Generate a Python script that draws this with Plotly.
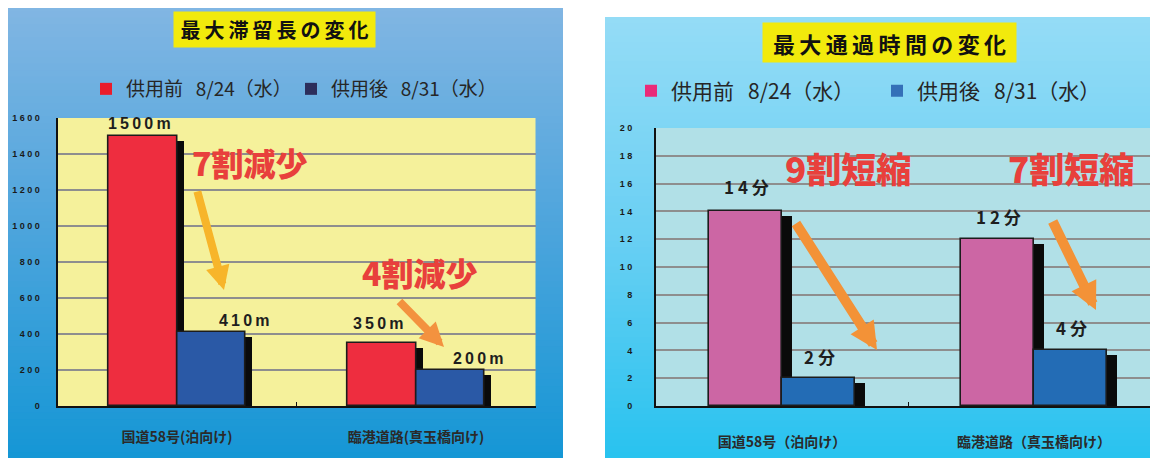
import plotly.graph_objects as go

W, H = 1158, 458
OX, OY = 8, 8  # page body margin of the viewing page

# ---------------- data ----------------
left_title = "最大滞留長の変化"
right_title = "最大通過時間の変化"
legend_before = "供用前\u00a0\u00a0\u00a08/24（水）"
legend_after = "供用後\u00a0\u00a0\u00a08/31（水）"

left_categories = ["国道58号(泊向け)", "臨港道路(真玉橋向け)"]
left_before = [1500, 350]
left_after = [410, 200]
left_unit = "m"
left_tickvals = [0, 200, 400, 600, 800, 1000, 1200, 1400, 1600]
left_ratio_labels = ["7割減少", "4割減少"]

right_categories = ["国道58号（泊向け）", "臨港道路（真玉橋向け）"]
right_before = [14, 12]
right_after = [2, 4]
right_unit = "分"
right_tickvals = [0, 2, 4, 6, 8, 10, 12, 14, 16, 18, 20]
right_ratio_labels = ["9割短縮", "7割短縮"]

# ---------------- helpers ----------------
def px(x):
    return min(1.0, max(0.0, (x - OX) / W))

def py(y):
    return min(1.0, max(0.0, 1 - (y - OY) / H))

def spaced(s, sep=" "):
    return sep.join(list(s))

def hex2rgb(h):
    h = h.lstrip("#")
    return tuple(int(h[i:i + 2], 16) for i in (0, 2, 4))

def gradient(x0, x1, y0, y1, stops, n=70):
    shapes = []
    step = (y1 - y0) / n
    for i in range(n):
        t = (i + 0.5) / n
        for j in range(len(stops) - 1):
            if stops[j][0] <= t <= stops[j + 1][0]:
                a, ca = stops[j]
                b, cb = stops[j + 1]
                f = (t - a) / (b - a)
                break
        ra, rb = hex2rgb(ca), hex2rgb(cb)
        c = tuple(round(ra[k] + (rb[k] - ra[k]) * f) for k in range(3))
        shapes.append(dict(type="rect", xref="paper", yref="paper", layer="below",
                           x0=px(x0), x1=px(x1), y0=py(min(y1, y0 + (i + 1) * step + 0.6)),
                           y1=py(max(y0, y0 + i * step - 0.6)),
                           fillcolor="rgb(%d,%d,%d)" % c, line=dict(width=0)))
    return shapes

CJK = "Noto Sans CJK JP"
NUM = "Liberation Sans"

fig = go.Figure()

# ---------------- bars ----------------
def add_panel(cats, before, after, xa, ya, yrange, plot_h, bw, sdx, c_before, c_after):
    dy = 5 * yrange / plot_h
    fig.add_trace(go.Bar(x=cats, y=[v - dy for v in before], offset=-bw + sdx, width=bw,
                         marker=dict(color="#0a0a0a", line=dict(width=0)),
                         showlegend=False, hoverinfo="skip", xaxis=xa, yaxis=ya))
    fig.add_trace(go.Bar(x=cats, y=[v - dy for v in after], offset=sdx, width=bw,
                         marker=dict(color="#0a0a0a", line=dict(width=0)),
                         showlegend=False, hoverinfo="skip", xaxis=xa, yaxis=ya))
    fig.add_trace(go.Bar(x=cats, y=before, offset=-bw, width=bw,
                         marker=dict(color=c_before, line=dict(color="#1c1c1c", width=1.6)),
                         showlegend=False, xaxis=xa, yaxis=ya))
    fig.add_trace(go.Bar(x=cats, y=after, offset=0, width=bw,
                         marker=dict(color=c_after, line=dict(color="#1c1c1c", width=1.6)),
                         showlegend=False, xaxis=xa, yaxis=ya))

add_panel(left_categories, left_before, left_after, "x", "y", 1600, 288, 0.285, 0.028,
          "#ee2d3f", "#2a59a6")
add_panel(right_categories, right_before, right_after, "x2", "y2", 20, 278, 0.29, 0.038,
          "#cc66a4", "#236cb5")

# legend-only entries (swatch colours differ from the bars in the original)
for name, col, lg, xa, ya, cats in [
    (legend_before, "#ea1c2b", "legend", "x", "y", left_categories),
    (legend_after, "#2c2e5c", "legend", "x", "y", left_categories),
    (legend_before, "#ea2a78", "legend2", "x2", "y2", right_categories),
    (legend_after, "#3470b8", "legend2", "x2", "y2", right_categories),
]:
    fig.add_trace(go.Bar(x=[cats[0]], y=[None], name=name, marker=dict(color=col, line=dict(width=0)),
                         legend=lg, xaxis=xa, yaxis=ya, hoverinfo="skip"))

# ---------------- annotations ----------------
ann = []
lab_font_l = dict(family=NUM, size=16, color="#1e1e1e", weight="bold")
for i, c in enumerate(left_categories):
    ann.append(dict(x=c, y=left_before[i], xref="x", yref="y", showarrow=False,
                    text=spaced(f"{left_before[i]}{left_unit}", "\u2009"), xshift=-38,
                    yshift=[13, 20][i], xanchor="center", yanchor="middle", font=lab_font_l))
    ann.append(dict(x=c, y=left_after[i], xref="x", yref="y", showarrow=False,
                    text=spaced(f"{left_after[i]}{left_unit}", "\u2009"), xshift=[67, 62][i],
                    yshift=12, xanchor="center", yanchor="middle", font=lab_font_l))
lab_font_r = dict(family=CJK, size=17, color="#1e1e1e", weight="bold")
for i, c in enumerate(right_categories):
    ann.append(dict(x=c, y=right_before[i], xref="x2", yref="y2", showarrow=False,
                    text=spaced(f"{right_before[i]}{right_unit}"), xshift=-36,
                    yshift=[25, 23][i], xanchor="center", yanchor="middle", font=lab_font_r))
    ann.append(dict(x=c, y=right_after[i], xref="x2", yref="y2", showarrow=False,
                    text=spaced(f"{right_after[i]}{right_unit}"), xshift=37,
                    yshift=[22, 23][i], xanchor="center", yanchor="middle", font=lab_font_r))

# titles
ann.append(dict(x=px(274.5), y=py(29.5), xref="paper", yref="paper", showarrow=False,
                xanchor="center", yanchor="middle",
                text=spaced(left_title, "\u2009"), bgcolor="#f2ea0c", width=199, height=33,
                font=dict(family=CJK, size=20, color="#111", weight="bold")))
ann.append(dict(x=px(889.5), y=py(42.5), xref="paper", yref="paper", showarrow=False,
                xanchor="center", yanchor="middle",
                text=spaced(right_title, "\u2009"), bgcolor="#f2ea0c", width=251, height=37,
                font=dict(family=CJK, size=22, color="#111", weight="bold")))

# ratio callouts
ratio_red = "#e8403c"
for txt, (cx, cy), sz in [
    (left_ratio_labels[0], (250, 162), 32),
    (left_ratio_labels[1], (420, 272), 32),
    (right_ratio_labels[0], (848, 168), 35),
    (right_ratio_labels[1], (1071, 168), 35),
]:
    ann.append(dict(x=px(cx), y=py(cy), xref="paper", yref="paper", showarrow=False, text=txt,
                    xanchor="center", yanchor="middle",
                    font=dict(family=CJK, size=sz, color=ratio_red, weight=900)))

# arrows (tail -> tip in pixel coords)
for (tx, ty), (hx, hy), col, w, s in [
    ((197, 190), (224, 290), "#f7b52a", 8, 0.6),
    ((398, 300), (444, 347), "#f3923f", 8, 0.6),
    ((795, 222), (877, 350), "#f39237", 10, 0.55),
    ((1052, 220), (1096, 310), "#f39237", 10, 0.55),
]:
    ann.append(dict(x=px(hx), y=py(hy), xref="paper", yref="paper", ax=tx - hx, ay=ty - hy,
                    axref="pixel", ayref="pixel", text="", showarrow=True, arrowhead=2,
                    arrowsize=s, arrowwidth=w, arrowcolor=col, standoff=0, startstandoff=0))

# ---------------- shapes (backgrounds) ----------------
shapes = []
shapes += gradient(5, 563, 5, 466, [(0, "#82b6e3"), (0.5, "#4ba4dc"), (1, "#1396d5")])
shapes += gradient(605, 1166, 17, 466, [(0, "#95dcf6"), (0.5, "#68cff3"), (1, "#26c2ef")])
shapes.append(dict(type="rect", xref="x domain", yref="y domain", x0=0, x1=1, y0=0, y1=1,
                   fillcolor="#f5f19b", line=dict(width=0), layer="below"))
shapes.append(dict(type="rect", xref="x2 domain", yref="y2 domain", x0=0, x1=1, y0=0, y1=1,
                   fillcolor="#b1e0e7", line=dict(width=0), layer="below"))

# ---------------- axes ----------------
ytick_font = dict(family=NUM, size=9, color="#1a1a1a", weight="bold")
xtick_font = dict(family=CJK, size=14, color="#2a2a2a", weight="bold")

fig.update_layout(
    width=W, height=H, margin=dict(l=0, r=0, t=0, b=0, autoexpand=False),
    paper_bgcolor="white", plot_bgcolor="rgba(0,0,0,0)",
    barmode="overlay", bargap=0,
    showlegend=True,
    xaxis=dict(domain=[px(57.5), px(535.5)], anchor="y", type="category",
               showgrid=False, showline=True, linecolor="#111", linewidth=2,
               ticks="inside", tickson="boundaries", ticklen=4, tickcolor="#111",
               tickfont=xtick_font, ticklabelstandoff=17, fixedrange=True),
    yaxis=dict(domain=[py(406), py(118)], anchor="x", range=[0, 1600],
               tickvals=left_tickvals, ticktext=[spaced(str(v)) for v in left_tickvals],
               showgrid=True, gridcolor="#8e8e8e", gridwidth=2, zeroline=False,
               showline=True, linecolor="#111", linewidth=2, ticks="",
               tickfont=ytick_font, ticklabelstandoff=14, fixedrange=True),
    xaxis2=dict(domain=[px(656), px(1160)], anchor="y2", type="category",
                showgrid=False, showline=True, linecolor="#111", linewidth=2,
                ticks="inside", tickson="boundaries", ticklen=4, tickcolor="#111",
                tickfont=xtick_font, ticklabelstandoff=22, fixedrange=True),
    yaxis2=dict(domain=[py(406), py(128)], anchor="x2", range=[0, 20],
                tickvals=right_tickvals, ticktext=[spaced(str(v)) for v in right_tickvals],
                showgrid=True, gridcolor="#8e8e8e", gridwidth=2, zeroline=False,
                showline=True, linecolor="#111", linewidth=2, ticks="",
                tickfont=ytick_font, ticklabelstandoff=20, fixedrange=True),
    legend=dict(orientation="h", x=px(86), xanchor="left", y=py(89), yanchor="middle",
                entrywidth=160, entrywidthmode="pixels", bgcolor="rgba(0,0,0,0)",
                font=dict(family=CJK, size=19, color="#262626")),
    legend2=dict(orientation="h", x=px(631), xanchor="left", y=py(91), yanchor="middle",
                 entrywidth=201, entrywidthmode="pixels", bgcolor="rgba(0,0,0,0)",
                 font=dict(family=CJK, size=21, color="#262626")),
    annotations=ann,
    shapes=shapes,
)

fig.write_html("out.html")
